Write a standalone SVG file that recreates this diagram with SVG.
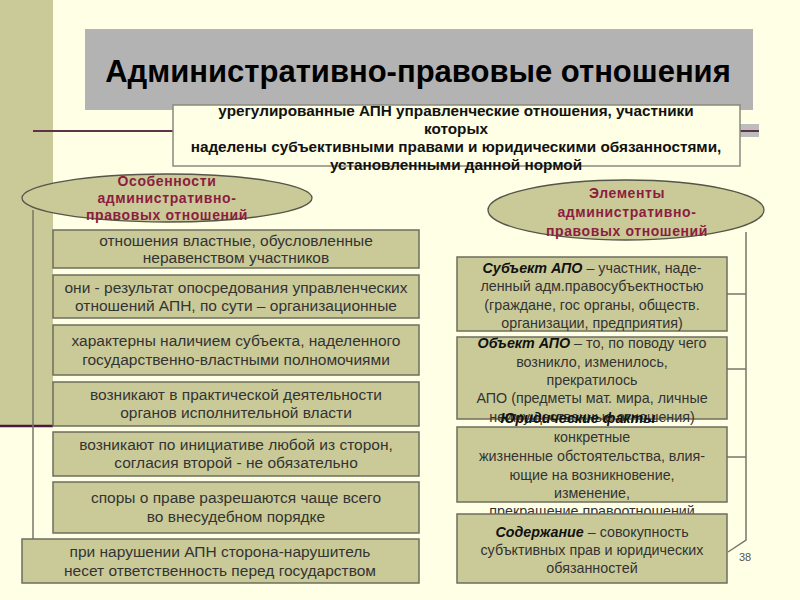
<svg xmlns="http://www.w3.org/2000/svg" width="800" height="600" viewBox="0 0 800 600">
<style>
.box{fill:#CACA98;stroke:#6E6E5E;stroke-width:1.5}
.ell{fill:#CACA98;stroke:#55554A;stroke-width:1.3}
.t{font-family:"Liberation Sans",Arial,sans-serif;font-size:15.5px;fill:#333;text-anchor:middle}
.r{font-size:14.3px}
.d{font-family:"Liberation Sans",Arial,sans-serif;font-size:15.3px;font-weight:bold;fill:#111;text-anchor:middle}
.e{font-family:"Liberation Sans",Arial,sans-serif;font-size:14px;font-weight:bold;fill:#8C1D40;text-anchor:middle;letter-spacing:0.6px}
.bi{font-weight:bold;font-style:italic;fill:#111}
.c{fill:none;stroke:#77776A;stroke-width:1.5}
</style>
<rect width="800" height="600" fill="#FFFFE5"/>
<rect x="0" y="0" width="53" height="426" fill="#CACA98"/>
<line x1="0" y1="426" x2="53" y2="426" stroke="#4A1840" stroke-width="2.5"/>
<g id="title">
<rect x="85" y="29" width="668" height="81" fill="#B3B3B3"/>
<text x="418" y="82" font-family="Liberation Sans,Arial,sans-serif" font-size="31" font-weight="bold" fill="#000" text-anchor="middle">Административно-правовые отношения</text>
</g>
<rect x="740" y="124" width="19" height="13" fill="#BDBDBD"/>
<line x1="33" y1="131" x2="759" y2="131" stroke="#5C3348" stroke-width="2"/>
<g id="connectors">
<line class="c" x1="33" y1="210" x2="33" y2="539"/>
<polyline class="c" points="746,232 746,540 728,552"/>
<line class="c" x1="727" y1="294" x2="746" y2="294"/>
<line class="c" x1="727" y1="369" x2="746" y2="369"/>
<line class="c" x1="727" y1="457" x2="746" y2="457"/>
</g>
<g id="definition">
<rect x="173" y="105" width="567" height="61" fill="#FFFFE5" stroke="#8A8A80" stroke-width="1.5"/>
<text class="d" x="456" y="116">урегулированные АПН управленческие отношения, участники</text>
<text class="d" x="456" y="134">которых</text>
<text class="d" x="456" y="152">наделены субъективными правами и юридическими обязанностями,</text>
<text class="d" x="456" y="170">установленными данной нормой</text>
</g>
<g id="features-ellipse">
<ellipse class="ell" cx="167" cy="198" rx="145" ry="24"/>
<text class="e" x="167" y="186">Особенности</text>
<text class="e" x="167" y="203">административно-</text>
<text class="e" x="167" y="220">правовых отношений</text>
</g>
<g id="elements-ellipse">
<ellipse class="ell" cx="626" cy="210" rx="138" ry="30"/>
<text class="e" x="627" y="198">Элементы</text>
<text class="e" x="627" y="217">административно-</text>
<text class="e" x="627" y="236">правовых отношений</text>
</g>
<g id="f1"><rect class="box" x="53" y="230" width="366" height="38"/>
<text class="t" x="236" y="246">отношения властные, обусловленные</text>
<text class="t" x="236" y="263">неравенством участников</text></g>
<g id="f2"><rect class="box" x="53" y="275" width="366" height="43"/>
<text class="t" x="236" y="293">они - результат опосредования управленческих</text>
<text class="t" x="236" y="311">отношений АПН, по сути – организационные</text></g>
<g id="f3"><rect class="box" x="53" y="325" width="366" height="50"/>
<text class="t" x="236" y="346">характерны наличием субъекта, наделенного</text>
<text class="t" x="236" y="365">государственно-властными полномочиями</text></g>
<g id="f4"><rect class="box" x="53" y="382" width="366" height="44"/>
<text class="t" x="236" y="400">возникают в практической деятельности</text>
<text class="t" x="236" y="418">органов исполнительной власти</text></g>
<g id="f5"><rect class="box" x="53" y="432" width="366" height="44"/>
<text class="t" x="236" y="450">возникают по инициативе любой из сторон,</text>
<text class="t" x="236" y="468">согласия второй - не обязательно</text></g>
<g id="f6"><rect class="box" x="53" y="482" width="366" height="51"/>
<text class="t" x="236" y="503">споры о праве разрешаются чаще всего</text>
<text class="t" x="236" y="522">во внесудебном порядке</text></g>
<g id="f7"><rect class="box" x="22" y="539" width="397" height="44"/>
<text class="t" x="220" y="557">при нарушении АПН сторона-нарушитель</text>
<text class="t" x="220" y="576">несет ответственность перед государством</text></g>
<g id="e1"><rect class="box" x="457" y="257" width="270" height="74"/>
<text class="t r" x="592" y="273"><tspan class="bi">Субъект АПО</tspan> – участник, наде-</text>
<text class="t r" x="592" y="291">ленный адм.правосубъектностью</text>
<text class="t r" x="592" y="310">(граждане, гос органы, обществ.</text>
<text class="t r" x="592" y="328">организации, предприятия)</text></g>
<g id="e2"><rect class="box" x="457" y="337" width="270" height="82"/>
<text class="t r" x="592" y="348"><tspan class="bi">Объект АПО</tspan> – то,  по поводу чего</text>
<text class="t r" x="592" y="367">возникло, изменилось,</text>
<text class="t r" x="592" y="385">прекратилось</text>
<text class="t r" x="592" y="403"> АПО (предметы мат. мира, личные</text>
<text class="t r" x="592" y="422">неимущественные отношения)</text></g>
<g id="e3"><rect class="box" x="457" y="427" width="270" height="75"/>
<text class="t r" x="578" y="423"><tspan class="bi">Юридические факты</tspan></text>
<text class="t r" x="592" y="442">конкретные</text>
<text class="t r" x="592" y="461">жизненные обстоятельства, влия-</text>
<text class="t r" x="592" y="480">ющие на возникновение,</text>
<text class="t r" x="592" y="498">изменение,</text>
<text class="t r" x="592" y="516">прекращение правоотношений</text></g>
<g id="e4"><rect class="box" x="457" y="514" width="270" height="69"/>
<text class="t r" x="592" y="537"><tspan class="bi">Содержание</tspan> – совокупность</text>
<text class="t r" x="592" y="555">субъктивных прав и юридических</text>
<text class="t r" x="592" y="573">обязанностей</text></g>
<text x="745" y="561" font-family="Liberation Sans,Arial,sans-serif" font-size="11" fill="#555" text-anchor="middle">38</text>
</svg>
